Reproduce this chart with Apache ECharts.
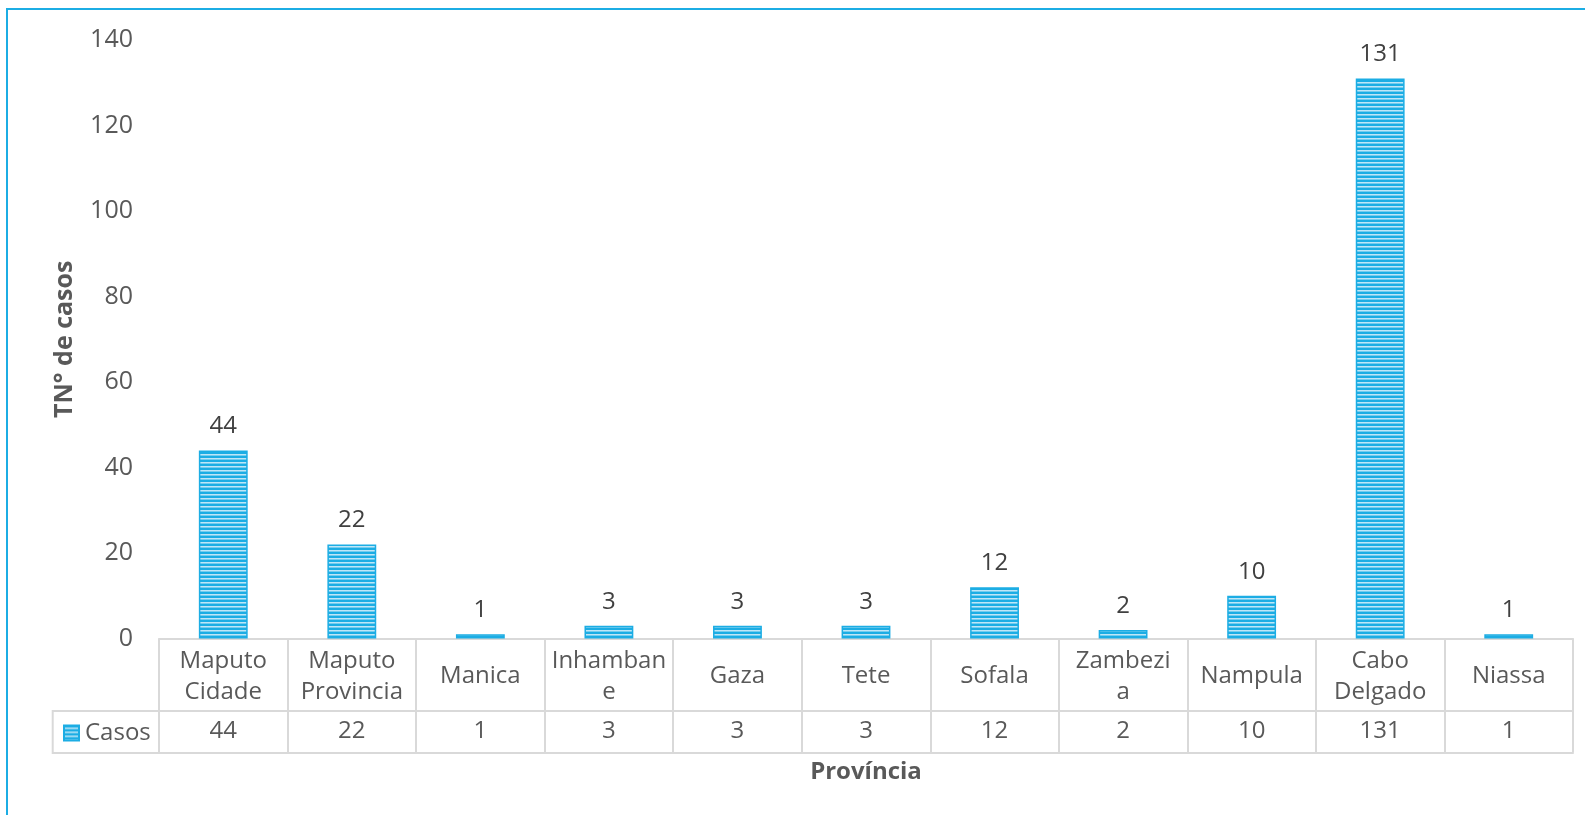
<!DOCTYPE html>
<html>
<head>
<meta charset="utf-8">
<script src="https://cdn.jsdelivr.net/npm/echarts@6/dist/echarts.min.js"></script>
<style>
  html, body { margin: 0; padding: 0; background: #fff; overflow: hidden; }
  #frame { position: absolute; left: 6px; top: 8px; width: 1640px; height: 900px; border: 2px solid #1CADE4; box-sizing: border-box; }
  #chart { position: absolute; left: 0; top: 0; width: 1585px; height: 815px; }
</style>
</head>
<body>
<div id="frame"></div>
<div id="chart"></div>
<script>
// ---- data ----
const categories = ["Maputo Cidade", "Maputo Provincia", "Manica", "Inhambane", "Gaza", "Tete", "Sofala", "Zambezia", "Nampula", "Cabo Delgado", "Niassa"];
const categoryLabels = ["Maputo\nCidade", "Maputo\nProvincia", "Manica", "Inhamban\ne", "Gaza", "Tete", "Sofala", "Zambezi\na", "Nampula", "Cabo\nDelgado", "Niassa"];
const casos = [44, 22, 1, 3, 3, 3, 12, 2, 10, 131, 1];
const seriesName = "Casos";
const yTicks = [0, 20, 40, 60, 80, 100, 120, 140];

// ---- striped pattern ----
function stripes() {
  const c = document.createElement('canvas');
  c.width = 4; c.height = 4;
  const g = c.getContext('2d');
  g.fillStyle = '#1CADE4'; g.fillRect(0, 0, 4, 4);
  g.fillStyle = '#bfe6f7'; g.fillRect(0, 2, 4, 1);
  g.fillStyle = '#74cdef'; g.fillRect(0, 3, 4, 1);
  return c;
}
const pattern = { image: stripes(), repeat: 'repeat' };

const FONT = '"Open Sans", sans-serif';
const LINE = '#d9d9d9';
const TXT = '#595959';

const chart = echarts.init(document.getElementById('chart'), null, { renderer: 'canvas' });
chart.setOption({
  animation: false,
  textStyle: { fontFamily: FONT },
  grid: { left: 159, right: 12, top: 40, bottom: 176.5, containLabel: false },
  legend: {
    show: true,
    data: [seriesName],
    left: 63, top: 721, padding: 0,
    itemWidth: 15, itemHeight: 15, itemGap: 0,
    icon: 'rect',
    textStyle: { fontSize: 24, color: TXT, fontFamily: FONT, padding: [0, 0, 0, 1] },
    selectedMode: false
  },
  xAxis: [
    {
      type: 'category', data: categories, position: 'bottom',
      axisLine: { show: true, lineStyle: { color: LINE, width: 2 } },
      axisTick: { show: true, length: 114, lineStyle: { color: LINE, width: 2 } },
      axisLabel: {
        interval: 0, margin: 38, verticalAlign: 'middle',
        fontSize: 24, lineHeight: 31.5, color: TXT, fontFamily: FONT,
        formatter: (v, i) => categoryLabels[i]
      }
    },
    {
      type: 'category', data: categories, position: 'bottom', offset: 72,
      axisLine: { show: true, lineStyle: { color: LINE, width: 2 } },
      axisTick: { show: false },
      axisLabel: {
        interval: 0, margin: 21, verticalAlign: 'middle',
        fontSize: 24, color: TXT, fontFamily: FONT,
        formatter: (v, i) => String(casos[i])
      }
    },
    {
      type: 'category', data: categories, position: 'bottom', offset: 114,
      axisLine: { show: true, lineStyle: { color: LINE, width: 2 } },
      axisTick: { show: false },
      axisLabel: { show: false },
      name: 'Província', nameLocation: 'middle', nameGap: 8,
      nameTextStyle: { fontSize: 24, fontWeight: 'bold', color: TXT, fontFamily: FONT, verticalAlign: 'top' }
    }
  ],
  yAxis: {
    type: 'value', min: 0, max: 140, interval: 20,
    axisLine: { show: false }, axisTick: { show: false }, splitLine: { show: false },
    axisLabel: { margin: 26, fontSize: 25, color: TXT, fontFamily: FONT,
      formatter: v => yTicks.includes(v) ? String(v) : '' },
    name: 'TN° de casos', nameLocation: 'middle', nameGap: 82, nameRotate: 90,
    nameTextStyle: { fontSize: 25, fontWeight: 'bold', color: TXT, fontFamily: FONT }
  },
  graphic: [
    { type: 'rect', shape: { x: 52.7, y: 711, width: 106.3, height: 42 }, style: { fill: 'none', stroke: LINE, lineWidth: 2 }, z: 1, silent: true }
  ],
  series: [{
    name: seriesName, type: 'bar', xAxisIndex: 0, data: casos,
    barWidth: '38%',
    itemStyle: { color: pattern, borderColor: '#1CADE4', borderWidth: 1.5 },
    label: { show: true, position: 'top', distance: 12, fontSize: 24, color: '#404040', fontFamily: FONT }
  }]
});
</script>
</body>
</html>
